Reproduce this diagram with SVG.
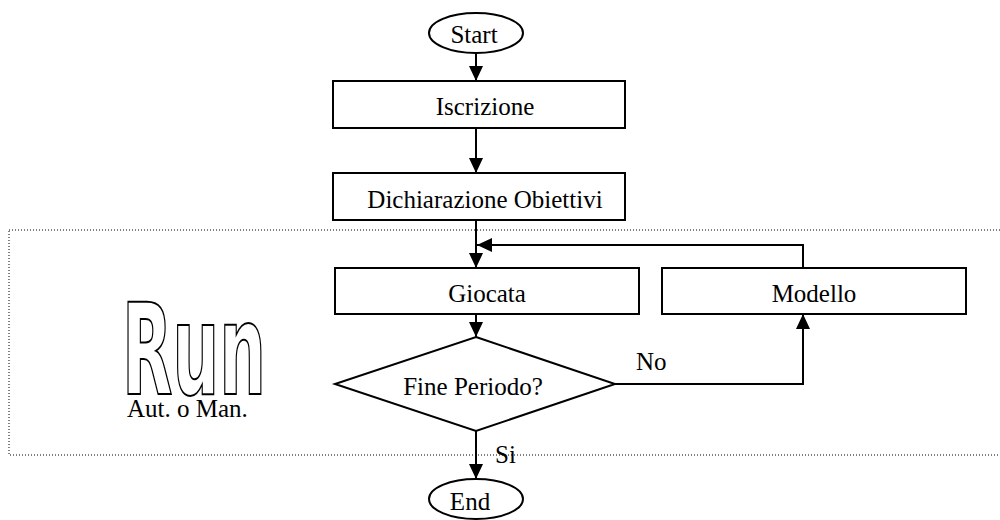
<svg xmlns="http://www.w3.org/2000/svg" width="1000" height="520" viewBox="0 0 1000 520">
<style>
.n{fill:#fff;stroke:#000;stroke-width:2}
.t{font-family:"Liberation Serif","Times New Roman",serif;font-size:25px;fill:#000;text-anchor:middle}
.l{font-family:"Liberation Serif","Times New Roman",serif;font-size:25px;fill:#000}
.c{fill:none;stroke:#000;stroke-width:2}
</style>
<defs>
<marker id="ah" markerWidth="15" markerHeight="14" viewBox="0 0 15 14" refX="15" refY="7" orient="auto" markerUnits="userSpaceOnUse">
<path d="M0,0 L15,7 L0,14 Z" fill="#000"/>
</marker>
</defs>
<rect id="run-region" x="9" y="230" width="1000" height="225" fill="none" stroke="#000" stroke-width="1" stroke-dasharray="1 2"/>
<g id="run-label">
<text x="194" y="394" font-family="'DejaVu Sans Condensed','DejaVu Sans',sans-serif" font-weight="bold" font-size="127" textLength="144" lengthAdjust="spacingAndGlyphs" text-anchor="middle" fill="#fff" stroke="#000" stroke-width="2">Run</text>
<text class="l" x="127" y="417">Aut. o Man.</text>
</g>
<g id="connectors">
<path class="c" d="M476,53 V81" marker-end="url(#ah)"/>
<path class="c" d="M476,128 V173" marker-end="url(#ah)"/>
<path class="c" d="M476,220 V268" marker-end="url(#ah)"/>
<path class="c" d="M803,268 V245 H477" marker-end="url(#ah)"/>
<path class="c" d="M476,314 V337" marker-end="url(#ah)"/>
<path class="c" d="M615,384 H803 V314" marker-end="url(#ah)"/>
<path class="c" d="M476,431 V479" marker-end="url(#ah)"/>
<text class="l" x="636" y="370">No</text>
<text class="l" x="495" y="463">Si</text>
</g>
<g id="start">
<ellipse class="n" cx="476" cy="33" rx="47" ry="20"/>
<text class="t" x="474" y="43">Start</text>
</g>
<g id="iscrizione">
<rect class="n" x="333" y="81" width="292" height="47"/>
<text class="t" x="485" y="115">Iscrizione</text>
</g>
<g id="dichiarazione">
<rect class="n" x="333" y="173" width="292" height="47"/>
<text class="t" x="485" y="208">Dichiarazione Obiettivi</text>
</g>
<g id="giocata">
<rect class="n" x="335" y="268" width="304" height="46"/>
<text class="t" x="487" y="302">Giocata</text>
</g>
<g id="modello">
<rect class="n" x="662" y="268" width="304" height="46"/>
<text class="t" x="814" y="302">Modello</text>
</g>
<g id="fine-periodo">
<polygon class="n" points="476,337 615,384 476,431 335,384"/>
<text class="t" x="473" y="395">Fine Periodo?</text>
</g>
<g id="end">
<ellipse class="n" cx="476" cy="499" rx="47" ry="20"/>
<text class="t" x="470" y="510">End</text>
</g>
</svg>
